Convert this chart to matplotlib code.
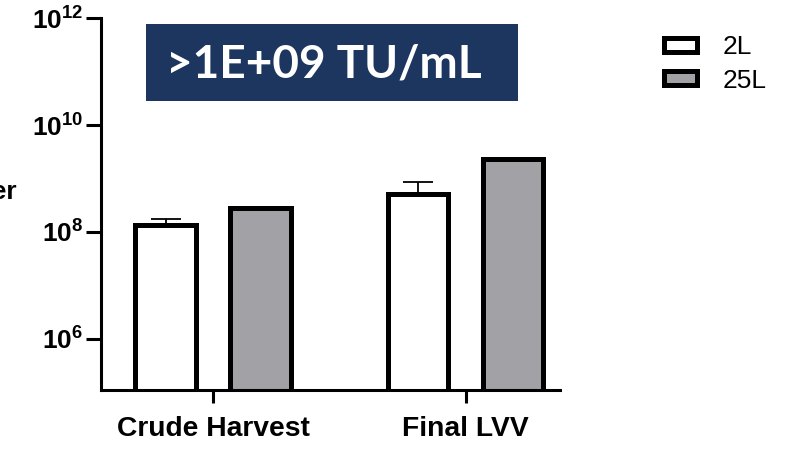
import numpy as np
import matplotlib
matplotlib.use("Agg")
import matplotlib.pyplot as plt
from matplotlib.patches import Patch, Rectangle

plt.rcParams['font.family'] = ['Liberation Sans', 'DejaVu Sans']
plt.rcParams['mathtext.fontset'] = 'custom'
plt.rcParams['mathtext.rm'] = 'Liberation Sans:bold'
plt.rcParams['mathtext.bf'] = 'Liberation Sans:bold'

# data
categories = ["Crude Harvest", "Final LVV"]
series = ["2L", "25L"]
titer_2L = [1.36e8, 5.2e8]
err_2L = [0.42e8, 3.4e8]
titer_25L = [2.8e8, 2.35e9]
yticks = [1e6, 1e8, 1e10, 1e12]
yticklabels = [r'$\mathbf{10^{6}}$', r'$\mathbf{10^{8}}$', r'$\mathbf{10^{10}}$', r'$\mathbf{10^{12}}$']
colors = ['white', '#a2a1a5']

W, H = 808, 454
fig = plt.figure(figsize=(W / 100, H / 100), dpi=100)
ax = fig.add_axes([0.125, 0.141, 0.568, 0.819])

x = np.arange(len(categories))
off = 0.188
w = 0.24

ax.errorbar(x - off, titer_2L, yerr=[np.zeros(2), err_2L], fmt='none',
            ecolor='black', elinewidth=1.3, capsize=11, capthick=1.3, zorder=1)
ax.bar(x - off, titer_2L, w, color=colors[0], edgecolor='black', linewidth=3.6, zorder=2)
ax.bar(x + off, titer_25L, w, color=colors[1], edgecolor='black', linewidth=3.6, zorder=2)

ax.set_yscale('log')
ax.set_ylim(1.1e5, 1e12)
ax.set_xlim(-0.444, 1.374)
ax.set_yticks(yticks)
ax.set_yticklabels(yticklabels, fontsize=19)
ax.minorticks_off()
ax.set_xticks(x)
ax.set_xticklabels(categories, fontsize=20.3, fontweight='bold')

for s in ['top', 'right']:
    ax.spines[s].set_visible(False)
for s in ['left', 'bottom']:
    ax.spines[s].set_linewidth(2.2)
ax.tick_params(axis='y', width=2.2, length=11, pad=2)
ax.tick_params(axis='x', width=2.2, length=9, pad=10)

# title box
fig.patches.append(Rectangle((146 / W, 1 - 101 / H), 372 / W, 77 / H,
                             transform=fig.transFigure, facecolor='#1c365f',
                             edgecolor='none', zorder=3))
fig.text(323.5 / W, 1 - 65 / H, ">1E+09 TU/mL", fontsize=33, fontweight='bold', color='white',
         family=['Lato', 'DejaVu Sans'], ha='center', va='center', zorder=4)

# y label, cut off at the left edge as in the original
fig.text(0.022, 1 - 192 / H, "Titer", fontsize=19, fontweight='bold', ha='right', va='center')

handles = [Patch(facecolor=colors[i], edgecolor='black', linewidth=3.6) for i in range(2)]
fig.legend(handles, series, loc='upper left', bbox_to_anchor=(0.793, 0.975), frameon=False,
           fontsize=19, handlelength=1.25, handleheight=0.45, labelspacing=0.36,
           handletextpad=0.95)

fig.savefig("out.png", dpi=100)
